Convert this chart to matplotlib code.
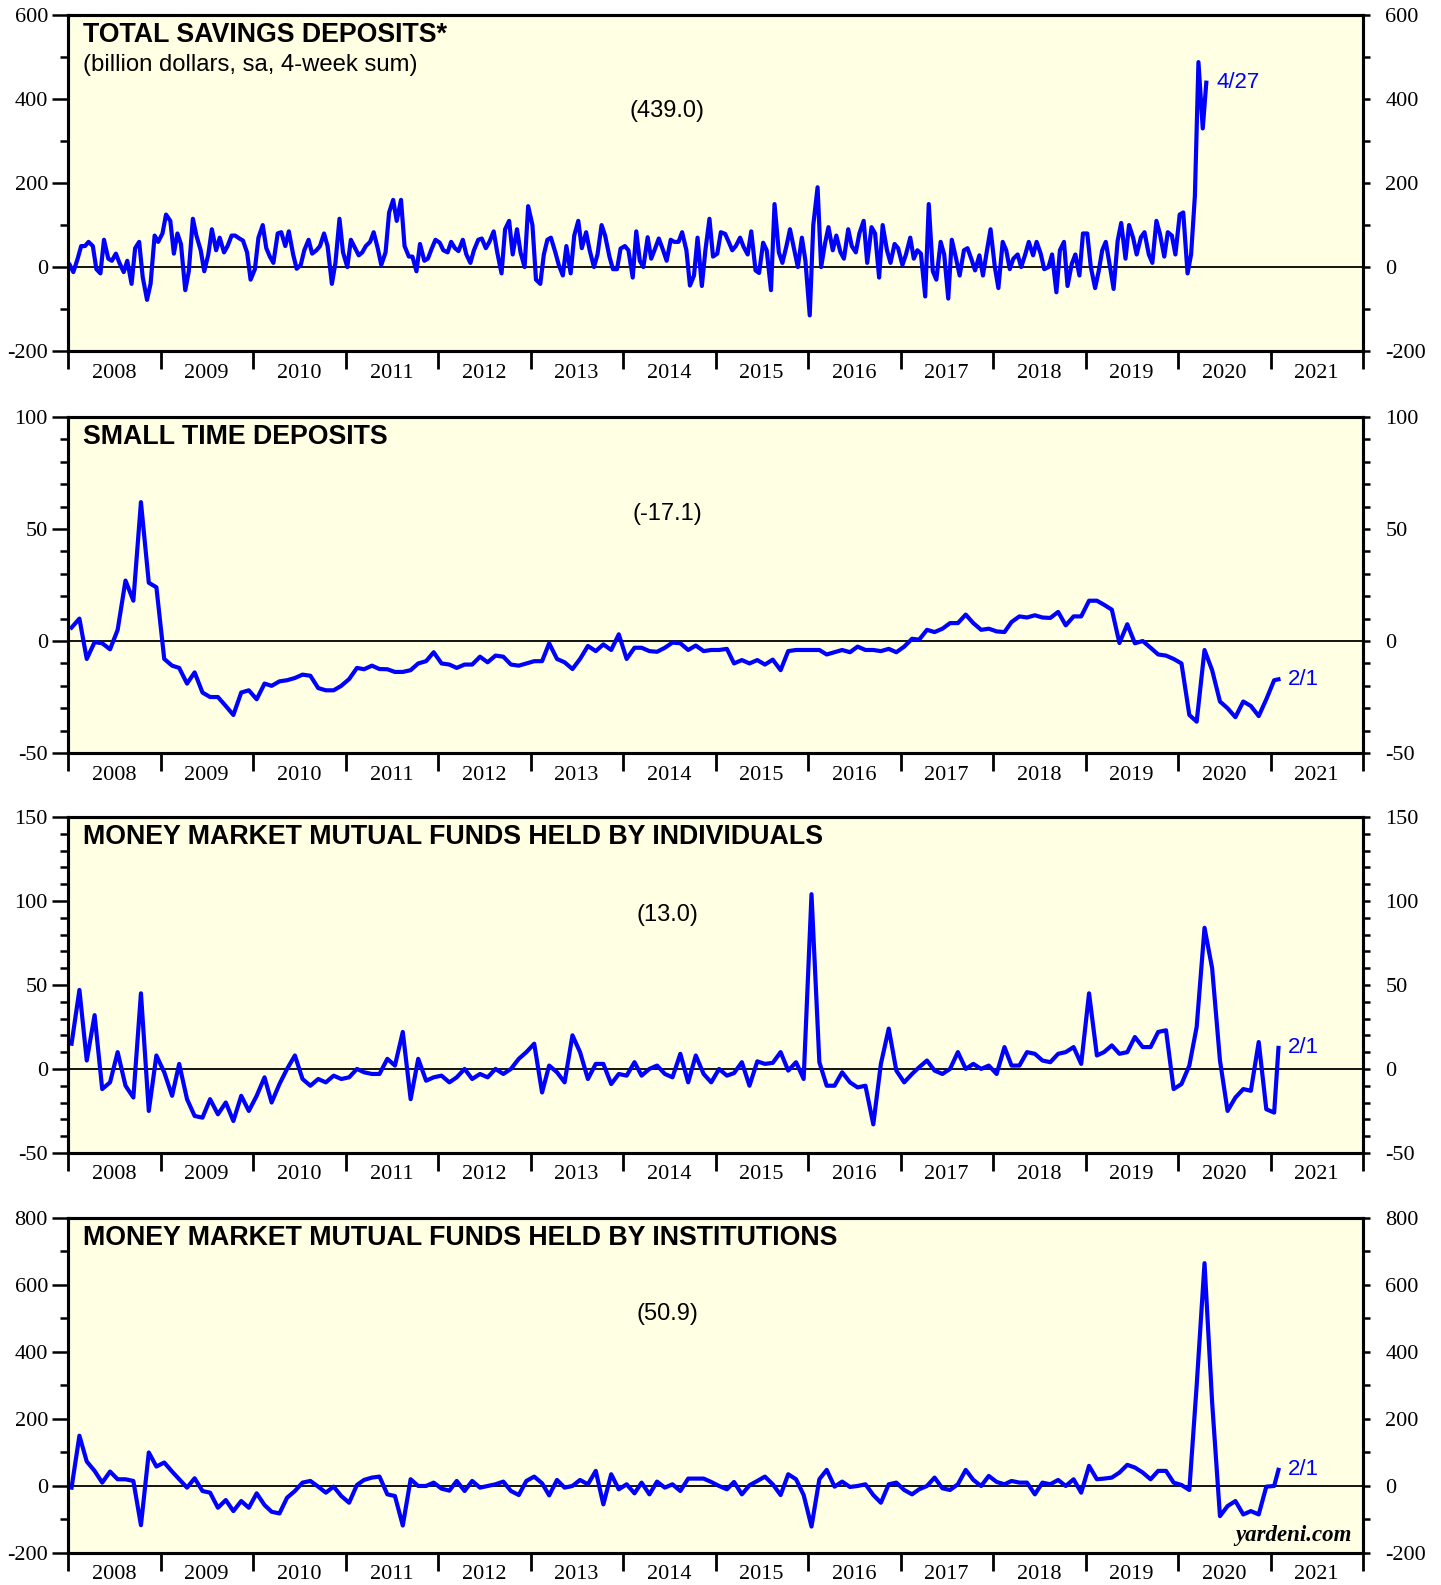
import numpy as np
import pandas as pd
import matplotlib
matplotlib.use("Agg")
import matplotlib.pyplot as plt
import matplotlib.dates as mdates
from matplotlib.ticker import MultipleLocator, NullFormatter

# ================= DATA ================= #
# total savings deposits, read twice a month (about the 8th and 22nd), Jan 2008 - Apr 2020
savings = [
    5, -12, 20, 50, 50, 60, 50, -5, -15, 65, 20, 15, 32, 10, -12, 15, -40, 45, 60, -24, -78, -40, 75, 60,      # 2008
    80, 125, 110, 32, 80, 55, -55, -10, 115, 75, 40, -10, 30, 90, 40, 70, 35, 50, 75, 75, 68, 63, 35, -30,     # 2009
    -5, 70, 100, 45, 25, 10, 80, 83, 50, 85, 30, -4, 5, 40, 65, 32, 40, 50, 80, 50, -40, 10, 115, 35,          # 2010
    0, 65, 45, 28, 35, 50, 60, 83, 45, 5, 35, 130, 160, 110, 160, 50, 25, 25, -10, 55, 15, 20, 45, 65,         # 2011
    58, 40, 35, 60, 45, 38, 65, 30, 10, 40, 65, 68, 45, 60, 85, 35, -15, 90, 110, 30, 90, 35, 0, 145,          # 2012
    100, -30, -40, 30, 65, 70, 36, 5, -20, 50, -15, 75, 110, 45, 83, 40, 0, 30, 100, 75, 25, -5, -5, 44,       # 2013
    50, 40, -25, 85, 15, 0, 71, 20, 45, 68, 40, 15, 65, 60, 60, 83, 40, -44, -20, 70, -45, 40, 115, 25,        # 2014
    32, 83, 79, 60, 40, 50, 70, 48, 30, 85, -8, -14, 58, 40, -55, 150, 35, 10, 50, 90, 40, 0, 70, 15,          # 2015
    -115, 100, 190, 0, 55, 95, 40, 75, 36, 20, 90, 50, 35, 80, 110, 10, 95, 80, -25, 100, 40, 10, 55, 45,      # 2016
    5, 30, 70, 20, 40, 32, -70, 150, -10, -30, 60, 30, -75, 65, 20, -20, 40, 45, 18, -8, 28, -20, 40, 90,      # 2017
    0, -50, 60, 40, -5, 20, 30, 0, 30, 60, 28, 60, 32, -5, 0, 30, -60, 40, 60, -45, 8, 30, -20, 80,            # 2018
    80, 0, -50, -10, 40, 60, 0, -52, 63, 105, 20, 100, 70, 30, 71, 83, 30, 10, 110, 79, 25, 83, 75, 30,        # 2019
    125, 130, -15, 30, 170, 488, 330, 439,                                                                     # 2020
]

# monthly readings (mid-month), Jan 2008 - Jan 2021, plus the last week 2/1/2021
small_time = [
    6, 10, -8, -0.5, -1, -3.7, 5, 27, 18, 62, 26, 24,                    # 2008
    -8, -11, -12, -19, -14, -23, -25, -25, -29, -33, -23, -22,           # 2009
    -26, -19, -20, -18, -17.5, -16.5, -15, -15.5, -21, -22, -22, -20,    # 2010
    -17, -12, -12.6, -11, -12.5, -12.6, -13.8, -13.8, -13, -10, -9, -5,  # 2011
    -10, -10.5, -12, -10.5, -10.5, -7, -9.5, -6.5, -7, -10.5, -11, -10,  # 2012
    -9, -9, -1, -8, -9.5, -12.5, -8, -2.2, -4.5, -1.5, -4, 3,            # 2013
    -8, -3, -3, -4.5, -4.8, -3, -0.7, -1, -4, -2, -4.5, -4,              # 2014
    -4, -3.5, -10, -8.5, -10, -8.5, -10.5, -8.3, -13, -4.5, -4, -4,      # 2015
    -4, -4, -6, -5, -4, -5, -2.5, -4, -4, -4.5, -3.5, -5,                # 2016
    -2.5, 1, 0.6, 5, 4, 5.5, 8, 8, 11.8, 8, 5, 5.5,                      # 2017
    4.3, 4, 8.5, 11, 10.5, 11.5, 10.5, 10.3, 13, 7, 11, 11,              # 2018
    18, 18, 16.2, 14, -0.9, 7.5, -1, 0, -3, -6, -6.5, -8,                # 2019
    -10, -33, -36, -4, -13, -27, -30, -34, -27, -29, -33.5, -26,         # 2020
    -17.5, -17.1,                                                        # 2021
]

mmf_individuals = [
    15, 47, 5, 32, -12, -8, 10, -10, -17, 45, -25, 8,          # 2008
    -2, -16, 3, -18, -28, -29, -18, -27, -20, -31, -16, -25,   # 2009
    -16, -5, -20, -9, 0, 8, -6, -10, -6, -8, -4, -6,           # 2010
    -5, 0, -2, -3, -3, 6, 2, 22, -18, 6, -7, -5,               # 2011
    -4, -8, -5, 0, -6, -3, -5, 0, -3, 0, 6, 10,                # 2012
    15, -14, 2, -2, -8, 20, 10, -6, 3, 3, -9, -3,              # 2013
    -4, 4, -4, 0, 2, -3, -5, 9, -8, 8, -3, -8,                 # 2014
    0, -4, -2.5, 4, -10, 4.5, 3, 3.6, 10, -1, 4, -6,           # 2015
    104, 4, -10, -10, -2, -8, -11, -10, -33, 3, 24, -1,        # 2016
    -8, -3, 1, 5, -1, -3, 0, 10, 0, 3, 0, 2,                   # 2017
    -3, 13, 2, 2, 10, 9, 5, 4, 9, 10, 13, 3,                   # 2018
    45, 8, 10, 14, 9, 10, 19, 13, 13, 22, 23, -12,             # 2019
    -9, 2, 25, 84, 60, 5, -25, -17, -12, -13, 16, -24,         # 2020
    -26, 12.5,                                                 # 2021
]

mmf_institutions = [
    -5, 150, 73, 45, 10, 43, 20, 20, 15, -117, 100, 58,        # 2008
    70, 43, 20, -5, 23, -15, -20, -65, -42, -75, -45, -65,     # 2009
    -22, -57, -77, -82, -35, -15, 10, 15, -2, -20, -2, -30,    # 2010
    -50, 3, 18, 25, 28, -25, -30, -118, 20, 0, 0, 10,          # 2011
    -8, -14, 15, -15, 15, -5, 0, 5, 13, -15, -27, 15,          # 2012
    28, 8, -28, 18, -5, 0, 18, 5, 45, -55, 35, -10,            # 2013
    5, -22, 10, -25, 13, -5, 5, -15, 22, 22, 22, 12,           # 2014
    0, -10, 12, -25, 2, 15, 28, 5, -27, 35, 20, -27,           # 2015
    -121, 20, 48, -2, 13, -3, 0, 5, -27, -50, 5, 10,           # 2016
    -12, -25, -10, 0, 25, -7, -12, 5, 48, 18, 0, 30,           # 2017
    12, 5, 15, 10, 10, -25, 10, 5, 18, 0, 20, -20,             # 2018
    60, 20, 22, 25, 40, 63, 55, 40, 20, 45, 45, 10,            # 2019
    3, -12, 300, 665, 250, -90, -60, -45, -85, -75, -85, -2,   # 2020
    0, 48,                                                     # 2021
]

titles = ["TOTAL SAVINGS DEPOSITS*", "SMALL TIME DEPOSITS",
          "MONEY MARKET MUTUAL FUNDS HELD BY INDIVIDUALS",
          "MONEY MARKET MUTUAL FUNDS HELD BY INSTITUTIONS"]
latest = ["(439.0)", "(-17.1)", "(13.0)", "(50.9)"]
end_labels = ["4/27", "2/1", "2/1", "2/1"]
ylims = [(-200, 600), (-50, 100), (-50, 150), (-200, 800)]
major_steps = [200, 50, 50, 200]
minor_steps = [100, 10, 10, 100]

# ================= DATES ================= #
semi_monthly = pd.date_range("2008-01-01", "2020-04-15", freq="SMS") + pd.Timedelta(days=7)
monthly = (pd.date_range("2008-01-01", "2021-01-01", freq="MS") + pd.Timedelta(days=14)).append(
    pd.DatetimeIndex(["2021-02-01"]))

# ================= STYLE ================= #
SERIF = "Liberation Serif"
SANS = "Liberation Sans"
BG = "#FFFFE3"
BLUE = "#0000FF"

plt.rcParams["font.family"] = SERIF
plt.rcParams["axes.unicode_minus"] = False

fig = plt.figure(figsize=(14.41, 15.85), dpi=100)

rects = [
    [0.0472, 0.7785, 0.8987, 0.2120],
    [0.0472, 0.5249, 0.8987, 0.2120],
    [0.0472, 0.2726, 0.8987, 0.2120],
    [0.0472, 0.0202, 0.8987, 0.2114],
]
note_y = [0.714, 0.711, 0.708, 0.713]

series = [(semi_monthly, savings), (monthly, small_time),
          (monthly, mmf_individuals), (monthly, mmf_institutions)]

axes = []
for i, (dates, vals) in enumerate(series):
    ax = fig.add_axes(rects[i])
    ax.set_facecolor(BG)
    ax.axhline(0, color="black", lw=1.3, zorder=2)
    ax.plot(dates, vals, color=BLUE, lw=3.0, solid_joinstyle="round", zorder=3)

    ax.set_xlim(pd.Timestamp("2008-01-01"), pd.Timestamp("2022-01-01"))
    ax.set_ylim(*ylims[i])

    # x: year boundaries as long ticks, year names centred between them
    ax.xaxis.set_major_locator(mdates.YearLocator())
    ax.xaxis.set_major_formatter(NullFormatter())
    ax.xaxis.set_minor_locator(mdates.MonthLocator(bymonth=7))
    ax.xaxis.set_minor_formatter(mdates.DateFormatter("%Y"))
    ax.tick_params(axis="x", which="major", direction="out", length=13, width=2.0)
    ax.tick_params(axis="x", which="minor", length=0, labelsize=16, pad=9)

    ax.yaxis.set_major_locator(MultipleLocator(major_steps[i]))
    ax.yaxis.set_minor_locator(MultipleLocator(minor_steps[i]))
    ax.tick_params(axis="y", which="major", direction="out", length=11.5, width=1.8, labelsize=16, pad=3)
    ax.tick_params(axis="y", which="minor", direction="out", length=6, width=1.8)

    right = ax.twinx()
    right.set_ylim(*ylims[i])
    right.yaxis.set_major_locator(MultipleLocator(major_steps[i]))
    right.yaxis.set_minor_locator(MultipleLocator(minor_steps[i]))
    right.tick_params(axis="y", which="both", direction="out", length=5, width=1.8, labelsize=16, pad=11)

    for a in (ax, right):
        for sp in a.spines.values():
            sp.set_linewidth(2.2)

    ax.text(0.0116, 0.978, titles[i], transform=ax.transAxes, ha="left", va="top",
            fontsize=19.3, fontweight="bold", family=SANS)
    ax.text(0.4625, note_y[i], latest[i], transform=ax.transAxes, ha="center", va="center",
            fontsize=17, family=SANS)
    ax.annotate(end_labels[i], xy=(dates[-1], vals[-1]), xytext=(7, 0), textcoords="offset points",
                ha="left", va="center", color=BLUE, fontsize=16, family=SANS)
    axes.append(ax)

axes[0].text(0.0116, 0.885, "(billion dollars, sa, 4-week sum)", transform=axes[0].transAxes,
             ha="left", va="top", fontsize=17.2, family=SANS)
axes[3].text(0.9915, 0.02, "yardeni.com", transform=axes[3].transAxes, ha="right", va="bottom",
             fontsize=16.5, fontweight="bold", style="italic", family=SERIF)

fig.savefig("out.png", dpi=100, facecolor="white")
